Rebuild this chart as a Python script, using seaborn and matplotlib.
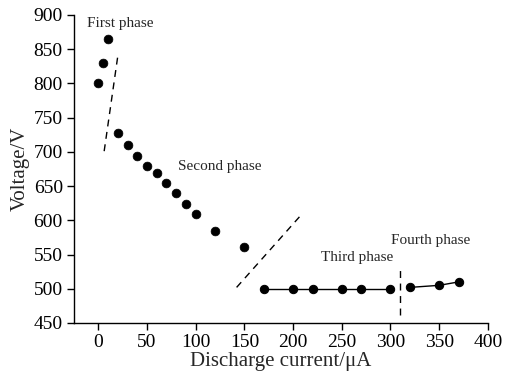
import matplotlib
matplotlib.use("Agg")
import matplotlib.pyplot as plt
import seaborn as sns
import pandas as pd

# Data
scatter_current = [0, 5, 10, 20, 30, 40, 50, 60, 70, 80, 90, 100, 120, 150]
scatter_voltage = [800, 830, 865, 727, 710, 694, 679, 669, 654, 640, 624, 609, 584, 561]

third_current = [170, 200, 220, 250, 270, 300]
third_voltage = [500, 500, 500, 500, 500, 500]

fourth_current = [320, 350, 370]
fourth_voltage = [502, 505, 510]

# dashed phase-boundary guides
guide1_x = [6, 20]
guide1_y = [701, 840]
guide2_x = [142, 209]
guide2_y = [502, 609]
guide3_x = [310, 310]
guide3_y = [461, 530]

x_ticks = [0, 50, 100, 150, 200, 250, 300, 350, 400]
y_ticks = [450, 500, 550, 600, 650, 700, 750, 800, 850, 900]

sns.set_theme(style="ticks")
plt.rcParams['font.family'] = ['Liberation Serif', 'DejaVu Serif']
plt.rcParams['mathtext.fontset'] = 'stix'

fig = plt.figure(figsize=(5.05, 3.74), dpi=100)
ax = fig.add_axes([0.1465, 0.1364, 0.8195, 0.8236])

df_s = pd.DataFrame({"x": scatter_current, "y": scatter_voltage})
df3 = pd.DataFrame({"x": third_current, "y": third_voltage})
df4 = pd.DataFrame({"x": fourth_current, "y": fourth_voltage})

sns.lineplot(data=df3, x="x", y="y", ax=ax, color="black", linewidth=1.0,
             marker="o", markersize=6, markeredgecolor="black")
sns.lineplot(data=df4, x="x", y="y", ax=ax, color="black", linewidth=1.0,
             marker="o", markersize=6, markeredgecolor="black")
sns.scatterplot(data=df_s, x="x", y="y", ax=ax, color="black", s=40,
                edgecolor="black", linewidth=0.5)

for gx, gy in [(guide1_x, guide1_y), (guide2_x, guide2_y), (guide3_x, guide3_y)]:
    ax.plot(gx, gy, color="black", linestyle=(0, (5, 4)), linewidth=1.0)

ax.set_xlim(-25, 400)
ax.set_ylim(450, 900)
ax.set_xticks(x_ticks)
ax.set_yticks(y_ticks)
ax.tick_params(axis="both", direction="out", length=5, width=1, labelsize=14,
               colors="black", pad=3)
for s in ["left", "bottom"]:
    ax.spines[s].set_linewidth(1.0)
    ax.spines[s].set_color("black")
sns.despine(ax=ax)

ax.set_xlabel("Discharge current/μA", fontsize=15, labelpad=1)
ax.set_ylabel("Voltage/V", fontsize=15, labelpad=3)

ax.text(-12, 887, "First phase", fontsize=11, va="center", ha="left")
ax.text(82, 679, "Second phase", fontsize=11, va="center", ha="left")
ax.text(229, 546, "Third phase", fontsize=11, va="center", ha="left")
ax.text(301, 570, "Fourth phase", fontsize=11, va="center", ha="left")

fig.savefig("out.png", dpi=100)
